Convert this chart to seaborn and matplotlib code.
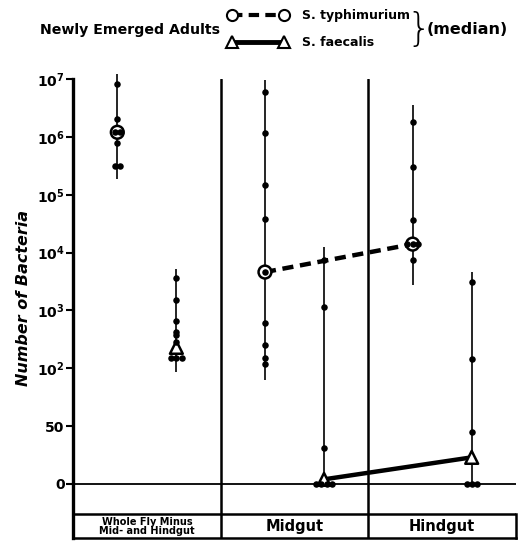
import matplotlib
matplotlib.use('Agg')
import matplotlib.pyplot as plt
from matplotlib.lines import Line2D
from matplotlib.ticker import NullLocator
import numpy as np
import pandas as pd
import seaborn as sns

sns.set_style('white')
plt.rcParams['font.family'] = ['DejaVu Sans']
plt.rcParams['font.weight'] = 'bold'
plt.rcParams['mathtext.default'] = 'bf'
for key in ['text.color', 'axes.labelcolor', 'xtick.color', 'ytick.color']:
    plt.rcParams[key] = 'black'

# gut regions and bacteria
sections = ['Whole Fly Minus\nMid- and Hindgut', 'Midgut', 'Hindgut']
organisms = ['S. typhimurium', 'S. faecalis']

# bacteria per fly, one value per dot
whole_typh = [8.2e6, 2.0e6, 1.2e6, 1.2e6, 7.8e5, 3.1e5, 3.1e5]
whole_faec = [3.6e3, 1.5e3, 660, 420, 380, 285, 150, 150, 150]
mid_typh = [6.0e6, 1.15e6, 1.5e5, 3.8e4, 4.6e3, 600, 250, 150, 120]
mid_faec = [7.4e3, 1.15e3, 31, 0, 0, 0, 0]
hind_typh = [1.8e6, 3.0e5, 3.6e4, 1.4e4, 1.4e4, 1.4e4, 7.4e3]
hind_faec = [3.1e3, 145, 45, 0, 0, 0]

# medians and range bars per section
typh_median = [1.2e6, 4.6e3, 1.4e4]
faec_median = [230, 4, 23]
typh_lo = [1.9e5, 90, 2.8e3]
typh_hi = [1.2e7, 9.6e6, 3.5e6]
faec_lo = [97, 0, 0]
faec_hi = [5.2e3, 1.25e4, 4.6e3]

yticks = [0, 50, 1e2, 1e3, 1e4, 1e5, 1e6, 1e7]
ytick_labels = ['0', '50', '$10^2$', '$10^3$', '$10^4$', '$10^5$', '$10^6$', '$10^7$']


# linear 0-100, log above 100
def fwd(v):
    v = np.asarray(v, float)
    return np.where(v <= 100, v / 50, 2 + np.log10(np.maximum(v, 100) / 100))


def inv(u):
    u = np.asarray(u, float)
    return np.where(u <= 2, u * 50, 100 * 10 ** (np.maximum(u, 2) - 2))


counts = {(0, 0): whole_typh, (0, 1): whole_faec,
          (1, 0): mid_typh, (1, 1): mid_faec,
          (2, 0): hind_typh, (2, 1): hind_faec}
rows = []
for (s, o), vals in counts.items():
    for v in vals:
        rows.append({'section': s, 'organism': organisms[o], 'count': v})
df = pd.DataFrame(rows)
df['base'] = df['section'] + np.where(df['organism'] == organisms[0], -0.2, 0.2)
g = df.groupby(['base', 'count'])['count']
df['x'] = df['base'] + (g.cumcount() - (g.transform('size') - 1) / 2) * 0.035

med = pd.DataFrame({
    'section': [0, 1, 2] * 2,
    'organism': [organisms[0]] * 3 + [organisms[1]] * 3,
    'median': typh_median + faec_median,
    'lo': typh_lo + faec_lo,
    'hi': typh_hi + faec_hi,
})
med['x'] = med['section'] + np.where(med['organism'] == organisms[0], -0.2, 0.2)

fig = plt.figure(figsize=(5.26, 5.41), dpi=100)
ax = fig.add_axes([73 / 526, 3 / 541, 443 / 526, 459 / 541])
ax.set_yscale('function', functions=(fwd, inv))
ax.set_xlim(-0.5, 2.5)
ax.set_ylim(-46.7, 1e7)

# range bars
ax.vlines(med['x'], med['lo'], med['hi'], color='black', lw=1.2, clip_on=False, zorder=2)

# median connectors for midgut -> hindgut
conn = med[med['section'] > 0]
sns.lineplot(data=conn, x='x', y='median', style='organism',
             dashes={organisms[0]: (2.5, 1.5), organisms[1]: ''},
             color='black', linewidth=3.2, legend=False, ax=ax, zorder=2.5)

sns.scatterplot(data=med, x='x', y='median', style='organism',
                markers={organisms[0]: 'o', organisms[1]: '^'},
                color='white', edgecolor='black', linewidth=1.8, s=85,
                legend=False, ax=ax, zorder=3)

sns.scatterplot(data=df, x='x', y='count', color='black', s=22, linewidth=0,
                legend=False, ax=ax, zorder=4, clip_on=False)

# frame / table
ax.axhline(0, color='black', lw=1.3)
ax.axhline(-26, color='black', lw=1.8)
for xd in [0.5, 1.5]:
    ax.axvline(xd, color='black', lw=1.8)
ax.spines['top'].set_visible(False)
ax.spines['right'].set_bounds(-46.7, -26)
for sp in ['right', 'bottom']:
    ax.spines[sp].set_linewidth(1.8)
ax.spines['left'].set_linewidth(2.4)
for sp in ax.spines.values():
    sp.set_color('black')

ax.set_yticks(yticks)
ax.set_yticklabels(ytick_labels)
ax.yaxis.set_minor_locator(NullLocator())
ax.tick_params(axis='y', direction='out', length=5, width=1.5, labelsize=10, pad=1, left=True)
ax.set_xticks([])
ax.set_xlabel('')
ax.set_ylabel('')

for i, name in enumerate(sections):
    fs = 7 if i == 0 else 10.5
    ax.text(i, -36.5, name, ha='center', va='center', fontsize=fs,
            fontweight='bold', linespacing=0.85)

fig.text(24 / 526, 1 - 298 / 541, 'Number of Bacteria', rotation=90,
         style='italic', fontweight='bold', fontsize=11.5, ha='center', va='center')

fig.text(40 / 526, 1 - 30 / 541, 'Newly Emerged Adults', fontsize=10.2,
         fontweight='bold', va='center')
handles = [
    Line2D([], [], color='black', lw=3, ls=(0, (2.5, 1.5)), marker='o', ms=8,
           mfc='white', mec='black', mew=1.5),
    Line2D([], [], color='black', lw=3.5, marker='^', ms=9,
           mfc='white', mec='black', mew=1.5),
]
fig.legend(handles, organisms, loc='upper left', bbox_to_anchor=(228 / 526, 1 - 9 / 541),
           frameon=False, numpoints=2, handlelength=4.8, handletextpad=1.1,
           labelspacing=1.15, borderpad=0, borderaxespad=0,
           prop={'weight': 'bold', 'size': 9})
fig.text(419 / 526, 1 - 30 / 541, '}', fontsize=28, fontweight='light',
         va='center', ha='center')
fig.text(427 / 526, 1 - 30 / 541, '(median)', fontsize=11.5, fontweight='bold',
         va='center')

fig.savefig('out.png', dpi=100)
